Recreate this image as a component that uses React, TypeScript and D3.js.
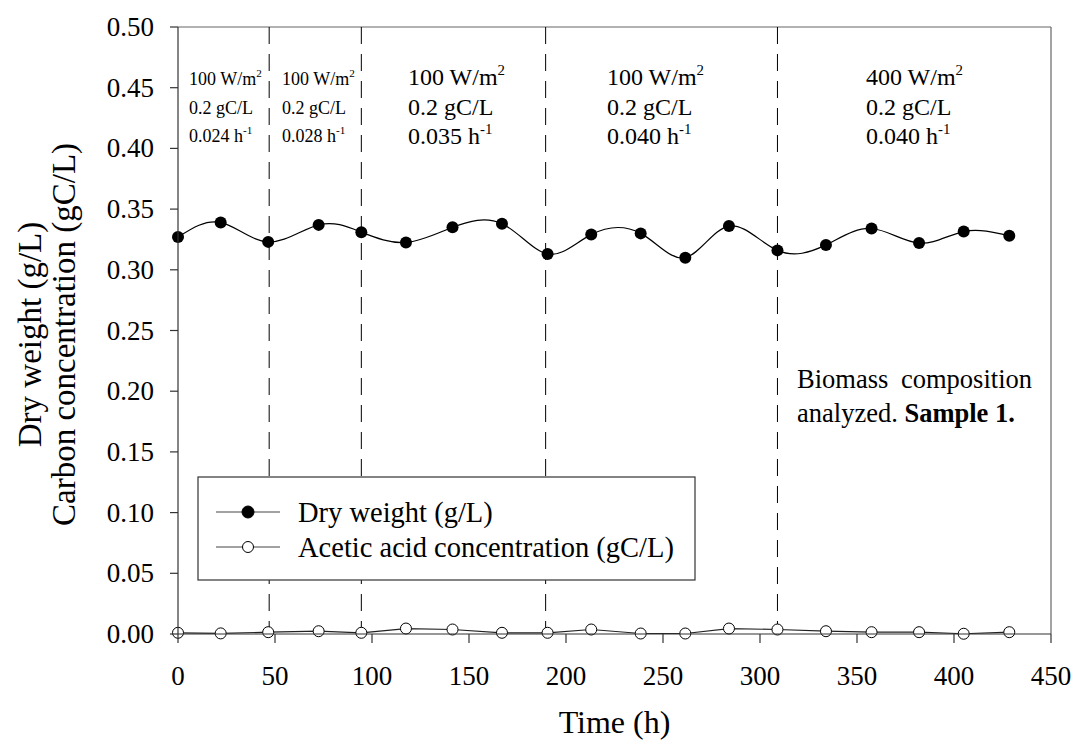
import React from "react";
import * as d3 from "d3";

const times = [0, 22, 46.5, 72.5, 94.5, 117.5, 141.5, 167, 190.5, 213, 238.5, 261.5, 284, 309, 334, 357.5, 382, 405, 428.5];
const dryWeight = [0.327, 0.339, 0.323, 0.337, 0.331, 0.3225, 0.335, 0.338, 0.313, 0.329, 0.33, 0.31, 0.336, 0.316, 0.3205, 0.334, 0.322, 0.3315, 0.328];
const aceticAcid = [0.001, 0.0005, 0.0015, 0.0023, 0.001, 0.0045, 0.0037, 0.001, 0.001, 0.0037, 0.0004, 0.0004, 0.0045, 0.0037, 0.0023, 0.0015, 0.0015, 0.0002, 0.0015];
const xTicks = [0, 50, 100, 150, 200, 250, 300, 350, 400, 450];
const yTicks = [0, 0.05, 0.1, 0.15, 0.2, 0.25, 0.3, 0.35, 0.4, 0.45, 0.5];
const phaseBoundaries = [47, 94.5, 189.5, 309];
const phaseLabels = [
  { x: 189, size: 18, lines: ["100 W/m", "0.2 gC/L", "0.024 h"] },
  { x: 282, size: 18, lines: ["100 W/m", "0.2 gC/L", "0.028 h"] },
  { x: 408, size: 24, lines: ["100 W/m", "0.2 gC/L", "0.035 h"] },
  { x: 607, size: 24, lines: ["100 W/m", "0.2 gC/L", "0.040 h"] },
  { x: 866, size: 24, lines: ["400 W/m", "0.2 gC/L", "0.040 h"] },
];
const legendItems = ["Dry weight (g/L)", "Acetic acid concentration (gC/L)"];

const FONT = "'Liberation Serif', 'Times New Roman', serif";

export default function App() {
  const W = 1075, H = 747;
  const L = 178, R = 1051, T = 27, B = 634;
  const x = d3.scaleLinear().domain([0, 450]).range([L, R]);
  const y = d3.scaleLinear().domain([0, 0.5]).range([B, T]);

  const dryLine = d3.line<number>().x((_, i) => x(times[i])).y((d) => y(d)).curve(d3.curveNatural)(dryWeight) || "";
  const aceLine = d3.line<number>().x((_, i) => x(times[i])).y((d) => y(d))(aceticAcid) || "";

  return (
    <svg width={W} height={H} style={{ position: "absolute", left: 0, top: 0, background: "#fff" }} fontFamily={FONT}>
      {/* frame top/right */}
      <line x1={L} x2={R} y1={T} y2={T} stroke="#666" strokeWidth={1.2} />
      <line x1={R} x2={R} y1={T} y2={B} stroke="#666" strokeWidth={1.2} />
      {/* phase boundaries */}
      {phaseBoundaries.map((t, i) => (
        <line key={i} x1={x(t)} x2={x(t)} y1={T} y2={B} stroke="#000" strokeWidth={1} strokeDasharray="17 10" />
      ))}
      {/* phase labels */}
      {phaseLabels.map((p, i) => {
        const step = p.size === 18 ? 28.5 : 29.5;
        return (
          <g key={i} fontSize={p.size} fill="#000">
            <text x={p.x} y={85}>
              {p.lines[0]}
              <tspan fontSize={p.size * 0.62} dy={-p.size * 0.42}>2</tspan>
            </text>
            <text x={p.x} y={85 + step}>{p.lines[1]}</text>
            <text x={p.x} y={85 + step * 2}>
              {p.lines[2]}
              <tspan fontSize={p.size * 0.62} dy={-p.size * 0.42}>-1</tspan>
            </text>
          </g>
        );
      })}
      {/* biomass annotation */}
      <text x={797} y={388} fontSize={26.5}>Biomass</text>
      <text x={1032} y={388} fontSize={26.5} textAnchor="end">composition</text>
      <text x={797} y={422} fontSize={26.5}>
        analyzed. <tspan fontWeight="bold">Sample 1.</tspan>
      </text>
      {/* data lines */}
      <path d={dryLine} fill="none" stroke="#000" strokeWidth={1.2} />
      <path d={aceLine} fill="none" stroke="#222" strokeWidth={1.2} />
      {dryWeight.map((v, i) => (
        <circle key={"d" + i} cx={x(times[i])} cy={y(v)} r={6} fill="#000" />
      ))}
      {aceticAcid.map((v, i) => (
        <circle key={"a" + i} cx={x(times[i])} cy={y(v)} r={5.5} fill="#fff" stroke="#000" strokeWidth={1} />
      ))}
      {/* legend */}
      <rect x={198} y={477} width={497} height={103} fill="#fff" stroke="#333" strokeWidth={1.2} />
      {legendItems.map((label, i) => {
        const ly = 512 + i * 35;
        return (
          <g key={i}>
            <line x1={216} x2={280} y1={ly} y2={ly} stroke="#444" strokeWidth={1.2} />
            <circle cx={248} cy={ly} r={i === 0 ? 6 : 5.5} fill={i === 0 ? "#000" : "#fff"} stroke="#000" strokeWidth={1} />
            <text x={298} y={ly + 10} fontSize={28.5}>{label}</text>
          </g>
        );
      })}
      {/* axes */}
      <line x1={L} x2={L} y1={T} y2={B} stroke="#333" strokeWidth={1.2} />
      <line x1={L} x2={R} y1={B} y2={B} stroke="#333" strokeWidth={1.2} />
      {yTicks.map((v, i) => (
        <g key={"yt" + i}>
          <line x1={L - 8} x2={L} y1={y(v)} y2={y(v)} stroke="#333" strokeWidth={1.2} />
          <text x={L - 24} y={y(v) + 9} fontSize={27} textAnchor="end">{v.toFixed(2)}</text>
        </g>
      ))}
      {xTicks.map((v, i) => (
        <g key={"xt" + i}>
          <line x1={x(v)} x2={x(v)} y1={B} y2={B + 9} stroke="#333" strokeWidth={1.2} />
          <text x={x(v)} y={685} fontSize={27} textAnchor="middle">{v}</text>
        </g>
      ))}
      <text x={(L + R) / 2} y={733} fontSize={32} textAnchor="middle">Time (h)</text>
      <g transform={`translate(0, ${(T + B) / 2 + 4}) rotate(-90)`} fontSize={33} textAnchor="middle">
        <text x={0} y={41}>Dry weight (g/L)</text>
        <text x={0} y={75}>Carbon concentration (gC/L)</text>
      </g>
    </svg>
  );
}
